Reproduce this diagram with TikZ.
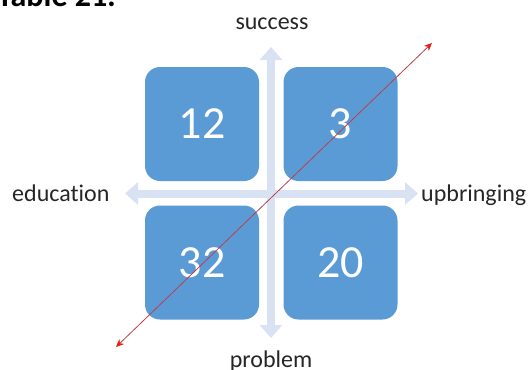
\documentclass[tikz,border=0pt]{standalone}
\usepackage{fontspec}
\setmainfont[Ligatures=NoCommon]{Carlito}
\usetikzlibrary{arrows.meta}
\definecolor{boxblue}{HTML}{5B9BD5}
\definecolor{axisblue}{HTML}{D9E2F3}
\definecolor{diagred}{HTML}{E0201C}
\definecolor{diagline}{HTML}{B8404C}
\tikzset{
  quad/.style={draw=none, fill=boxblue, rounded corners=15pt, minimum width=114pt, minimum height=114pt,
    inner sep=0pt, text=white, font=\fontsize{46}{46}\selectfont},
  axis/.style={draw=axisblue, line width=8pt, {Triangle[width=22pt,length=13pt]}-{Triangle[width=22pt,length=13pt]}},
  lbl/.style={inner sep=0pt, font=\fontsize{24}{24}\selectfont, text=black!85},
  diag/.style={draw=diagline, line width=0.8pt, {Stealth[length=8pt,width=7pt,color=diagred]}-{Stealth[length=8pt,width=7pt,color=diagred]}}
}
\begin{document}
\begin{tikzpicture}[x=1pt,y=-1pt]
\useasboundingbox (0,0) rectangle (529,369);
\clip (0,0) rectangle (529,369);
% cropped title
\node[anchor=base west, inner sep=0pt, font=\fontsize{32}{32}\selectfont\bfseries] (title) at (-3,6.5) {Table 21:};
% axes
\coordinate (vtop) at (271,47);
\coordinate (vbot) at (271,338);
\coordinate (hleft) at (125,193.5);
\coordinate (hright) at (418,193.5);
\draw[axis] (vbot) -- (vtop);
\draw[axis] (hleft) -- (hright);
% boxes
\node[quad] (tl) at (202,124) {12};
\node[quad] (tr) at (340.5,124) {3};
\node[quad] (bl) at (202,262.5) {32};
\node[quad] (br) at (340.5,262.5) {20};
% labels
\node[lbl, anchor=base] (success) at (272,30) {success};
\node[lbl, anchor=base] (problem) at (271,367) {problem};
\node[lbl, anchor=base west] (education) at (12,201.5) {education};
\node[lbl, anchor=base west] (upbringing) at (421,201.5) {upbringing};
% red diagonal
\coordinate (dlo) at (116,347);
\coordinate (dhi) at (432,43);
\draw[diag] (dlo) -- (dhi);
\end{tikzpicture}
\end{document}
